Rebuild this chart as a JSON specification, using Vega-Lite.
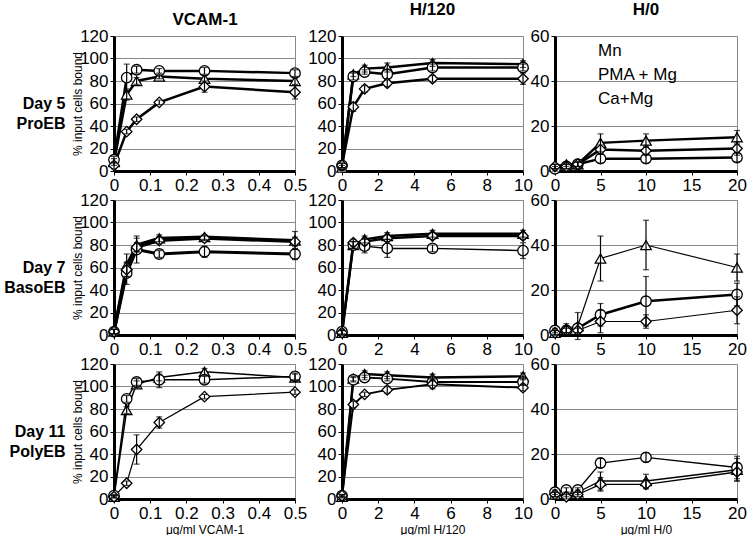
{
  "$schema": "https://vega.github.io/schema/vega-lite/v6.json",
  "background": "white",
  "padding": {"left": 3, "top": 0, "right": 1, "bottom": 2},
  "datasets": {
    "d5v": [
      {"s":"Mn","x":0,"y":8,"e":3},{"s":"Mn","x":0.035,"y":68,"e":5},{"s":"Mn","x":0.0625,"y":80,"e":3},{"s":"Mn","x":0.125,"y":84,"e":2},{"s":"Mn","x":0.25,"y":82,"e":3},{"s":"Mn","x":0.5,"y":80,"e":3},
      {"s":"PMA + Mg","x":0,"y":10,"e":3},{"s":"PMA + Mg","x":0.035,"y":83,"e":12},{"s":"PMA + Mg","x":0.0625,"y":90,"e":3},{"s":"PMA + Mg","x":0.125,"y":89,"e":2},{"s":"PMA + Mg","x":0.25,"y":89,"e":3},{"s":"PMA + Mg","x":0.5,"y":87,"e":3},
      {"s":"Ca+Mg","x":0,"y":5,"e":3},{"s":"Ca+Mg","x":0.035,"y":35,"e":2},{"s":"Ca+Mg","x":0.0625,"y":46,"e":2},{"s":"Ca+Mg","x":0.125,"y":61,"e":2},{"s":"Ca+Mg","x":0.25,"y":75,"e":5},{"s":"Ca+Mg","x":0.5,"y":70,"e":6}
    ],
    "d5h": [
      {"s":"Mn","x":0,"y":3,"e":2},{"s":"Mn","x":0.625,"y":86,"e":2},{"s":"Mn","x":1.25,"y":91,"e":3},{"s":"Mn","x":2.5,"y":92,"e":4},{"s":"Mn","x":5,"y":96,"e":3},{"s":"Mn","x":10,"y":95,"e":3},
      {"s":"PMA + Mg","x":0,"y":5,"e":2},{"s":"PMA + Mg","x":0.625,"y":84,"e":3},{"s":"PMA + Mg","x":1.25,"y":88,"e":2},{"s":"PMA + Mg","x":2.5,"y":86,"e":4},{"s":"PMA + Mg","x":5,"y":92,"e":3},{"s":"PMA + Mg","x":10,"y":92,"e":3},
      {"s":"Ca+Mg","x":0,"y":5,"e":2},{"s":"Ca+Mg","x":0.625,"y":57,"e":4},{"s":"Ca+Mg","x":1.25,"y":73,"e":3},{"s":"Ca+Mg","x":2.5,"y":78,"e":3},{"s":"Ca+Mg","x":5,"y":82,"e":3},{"s":"Ca+Mg","x":10,"y":82,"e":5}
    ],
    "d5z": [
      {"s":"Mn","x":0,"y":2,"e":1},{"s":"Mn","x":1.25,"y":3,"e":1},{"s":"Mn","x":2.5,"y":3,"e":1},{"s":"Mn","x":5,"y":12.5,"e":4},{"s":"Mn","x":10,"y":13.5,"e":3},{"s":"Mn","x":20,"y":15,"e":3},
      {"s":"PMA + Mg","x":0,"y":1,"e":1},{"s":"PMA + Mg","x":1.25,"y":2,"e":1},{"s":"PMA + Mg","x":2.5,"y":3,"e":1},{"s":"PMA + Mg","x":5,"y":5.5,"e":2},{"s":"PMA + Mg","x":10,"y":5.5,"e":2},{"s":"PMA + Mg","x":20,"y":6,"e":2},
      {"s":"Ca+Mg","x":0,"y":2,"e":1},{"s":"Ca+Mg","x":1.25,"y":2,"e":1},{"s":"Ca+Mg","x":2.5,"y":3,"e":1},{"s":"Ca+Mg","x":5,"y":9.5,"e":2},{"s":"Ca+Mg","x":10,"y":9,"e":2},{"s":"Ca+Mg","x":20,"y":10,"e":3}
    ],
    "d7v": [
      {"s":"Mn","x":0,"y":3,"e":2},{"s":"Mn","x":0.035,"y":62,"e":10},{"s":"Mn","x":0.0625,"y":80,"e":6},{"s":"Mn","x":0.125,"y":86,"e":3},{"s":"Mn","x":0.25,"y":87,"e":2},{"s":"Mn","x":0.5,"y":84,"e":8},
      {"s":"PMA + Mg","x":0,"y":3,"e":2},{"s":"PMA + Mg","x":0.035,"y":55,"e":10},{"s":"PMA + Mg","x":0.0625,"y":76,"e":12},{"s":"PMA + Mg","x":0.125,"y":72,"e":3},{"s":"PMA + Mg","x":0.25,"y":74,"e":5},{"s":"PMA + Mg","x":0.5,"y":72,"e":5},
      {"s":"Ca+Mg","x":0,"y":3,"e":2},{"s":"Ca+Mg","x":0.035,"y":58,"e":6},{"s":"Ca+Mg","x":0.0625,"y":78,"e":4},{"s":"Ca+Mg","x":0.125,"y":84,"e":3},{"s":"Ca+Mg","x":0.25,"y":86,"e":2},{"s":"Ca+Mg","x":0.5,"y":83,"e":4}
    ],
    "d7h": [
      {"s":"Mn","x":0,"y":2,"e":2},{"s":"Mn","x":0.625,"y":80,"e":3},{"s":"Mn","x":1.25,"y":85,"e":3},{"s":"Mn","x":2.5,"y":88,"e":3},{"s":"Mn","x":5,"y":90,"e":3},{"s":"Mn","x":10,"y":90,"e":3},
      {"s":"PMA + Mg","x":0,"y":3,"e":2},{"s":"PMA + Mg","x":0.625,"y":80,"e":3},{"s":"PMA + Mg","x":1.25,"y":79,"e":6},{"s":"PMA + Mg","x":2.5,"y":77,"e":8},{"s":"PMA + Mg","x":5,"y":77,"e":3},{"s":"PMA + Mg","x":10,"y":75,"e":7},
      {"s":"Ca+Mg","x":0,"y":2,"e":2},{"s":"Ca+Mg","x":0.625,"y":82,"e":3},{"s":"Ca+Mg","x":1.25,"y":83,"e":3},{"s":"Ca+Mg","x":2.5,"y":86,"e":3},{"s":"Ca+Mg","x":5,"y":88,"e":3},{"s":"Ca+Mg","x":10,"y":88,"e":3}
    ],
    "d7z": [
      {"s":"Mn","x":0,"y":1,"e":1},{"s":"Mn","x":1.25,"y":3,"e":2},{"s":"Mn","x":2.5,"y":4,"e":6},{"s":"Mn","x":5,"y":34,"e":10},{"s":"Mn","x":10,"y":40,"e":11},{"s":"Mn","x":20,"y":30,"e":6},
      {"s":"PMA + Mg","x":0,"y":2,"e":1},{"s":"PMA + Mg","x":1.25,"y":2,"e":2},{"s":"PMA + Mg","x":2.5,"y":3,"e":2},{"s":"PMA + Mg","x":5,"y":9,"e":5},{"s":"PMA + Mg","x":10,"y":15,"e":11},{"s":"PMA + Mg","x":20,"y":18,"e":5},
      {"s":"Ca+Mg","x":0,"y":1,"e":1},{"s":"Ca+Mg","x":1.25,"y":2,"e":1},{"s":"Ca+Mg","x":2.5,"y":2,"e":1},{"s":"Ca+Mg","x":5,"y":6,"e":5},{"s":"Ca+Mg","x":10,"y":6,"e":3},{"s":"Ca+Mg","x":20,"y":11,"e":6}
    ],
    "d11v": [
      {"s":"Mn","x":0,"y":2,"e":1},{"s":"Mn","x":0.035,"y":79,"e":3},{"s":"Mn","x":0.0625,"y":102,"e":3},{"s":"Mn","x":0.125,"y":108,"e":3},{"s":"Mn","x":0.25,"y":113,"e":3},{"s":"Mn","x":0.5,"y":108,"e":3},
      {"s":"PMA + Mg","x":0,"y":3,"e":1},{"s":"PMA + Mg","x":0.035,"y":89,"e":3},{"s":"PMA + Mg","x":0.0625,"y":104,"e":3},{"s":"PMA + Mg","x":0.125,"y":106,"e":7},{"s":"PMA + Mg","x":0.25,"y":106,"e":3},{"s":"PMA + Mg","x":0.5,"y":109,"e":3},
      {"s":"Ca+Mg","x":0,"y":2,"e":1},{"s":"Ca+Mg","x":0.035,"y":14,"e":2},{"s":"Ca+Mg","x":0.0625,"y":44,"e":13},{"s":"Ca+Mg","x":0.125,"y":68,"e":5},{"s":"Ca+Mg","x":0.25,"y":91,"e":2},{"s":"Ca+Mg","x":0.5,"y":95,"e":2}
    ],
    "d11h": [
      {"s":"Mn","x":0,"y":2,"e":1},{"s":"Mn","x":0.625,"y":107,"e":2},{"s":"Mn","x":1.25,"y":111,"e":3},{"s":"Mn","x":2.5,"y":110,"e":3},{"s":"Mn","x":5,"y":108,"e":3},{"s":"Mn","x":10,"y":109,"e":3},
      {"s":"PMA + Mg","x":0,"y":3,"e":1},{"s":"PMA + Mg","x":0.625,"y":106,"e":2},{"s":"PMA + Mg","x":1.25,"y":108,"e":2},{"s":"PMA + Mg","x":2.5,"y":107,"e":2},{"s":"PMA + Mg","x":5,"y":104,"e":3},{"s":"PMA + Mg","x":10,"y":104,"e":3},
      {"s":"Ca+Mg","x":0,"y":3,"e":1},{"s":"Ca+Mg","x":0.625,"y":84,"e":3},{"s":"Ca+Mg","x":1.25,"y":93,"e":2},{"s":"Ca+Mg","x":2.5,"y":97,"e":3},{"s":"Ca+Mg","x":5,"y":102,"e":4},{"s":"Ca+Mg","x":10,"y":99,"e":3}
    ],
    "d11z": [
      {"s":"Mn","x":0,"y":2,"e":1},{"s":"Mn","x":1.25,"y":2,"e":1},{"s":"Mn","x":2.5,"y":3,"e":1},{"s":"Mn","x":5,"y":8,"e":4},{"s":"Mn","x":10,"y":8,"e":3},{"s":"Mn","x":20,"y":13,"e":5},
      {"s":"PMA + Mg","x":0,"y":3,"e":1},{"s":"PMA + Mg","x":1.25,"y":4,"e":1},{"s":"PMA + Mg","x":2.5,"y":4,"e":1},{"s":"PMA + Mg","x":5,"y":16,"e":2},{"s":"PMA + Mg","x":10,"y":18.5,"e":2},{"s":"PMA + Mg","x":20,"y":14,"e":5},
      {"s":"Ca+Mg","x":0,"y":2,"e":1},{"s":"Ca+Mg","x":1.25,"y":1,"e":1},{"s":"Ca+Mg","x":2.5,"y":2,"e":1},{"s":"Ca+Mg","x":5,"y":6.5,"e":3},{"s":"Ca+Mg","x":10,"y":6.5,"e":2},{"s":"Ca+Mg","x":20,"y":12,"e":4}
    ]
  },
  "columns": 3,
  "align": "each",
  "spacing": {"row": -4, "column": -4},
  "resolve": {
    "scale": {"shape": "independent", "strokeWidth": "independent"},
    "legend": {"shape": "independent", "strokeWidth": "independent"}
  },
  "concat": [
    {
      "width": 181, "height": 135,
      "data": {"name": "d5v"},
      "encoding": {
        "x": {"field": "x", "type": "quantitative", "scale": {"domain": [0, 0.5], "nice": false}, "axis": {"values": [0, 0.1, 0.2, 0.3, 0.4, 0.5], "format": "~r", "title": null}},
        "y": {"field": "y", "type": "quantitative", "scale": {"domain": [0, 120], "nice": false}, "axis": {"values": [0, 20, 40, 60, 80, 100, 120], "title": "% input cells bound", "titlePadding": -5}}
      },
      "layer": [
        {"layer": [
          {"mark": {"type": "line", "color": "black"}, "encoding": {"detail": {"field": "s"}, "strokeWidth": {"field": "s", "type": "nominal", "scale": {"type": "ordinal", "domain": ["Mn", "PMA + Mg", "Ca+Mg"], "range": [2.5, 2.5, 2.5]}, "legend": null}}},
          {"mark": {"type": "point", "filled": true, "fill": "white", "stroke": "black", "strokeWidth": 1.3, "size": 110, "opacity": 1}, "encoding": {"shape": {"field": "s", "type": "nominal", "scale": {"domain": ["Mn", "PMA + Mg", "Ca+Mg"], "range": ["triangle-up", "circle", "diamond"]}, "legend": null}}}
        ]},
        {"mark": {"type": "errorbar", "color": "black", "ticks": true, "size": 6, "thickness": 1.2},
         "encoding": {
           "x": {"field": "x", "type": "quantitative", "scale": {"domain": [0, 0.5], "nice": false}, "axis": {"orient": "top", "labels": false, "ticks": false, "domain": false, "grid": false, "title": "VCAM-1", "titleFontSize": 17, "titleFontWeight": "bold", "titlePadding": 8}},
           "y": {"field": "y", "type": "quantitative", "scale": {"domain": [0, 120], "nice": false}, "axis": {"orient": "left", "labels": false, "ticks": false, "domain": false, "grid": false, "title": ["Day 5", "ProEB"], "titleAngle": 0, "titleAlign": "right", "titleBaseline": "middle", "titleX": -49, "titleY": 67, "titleFontSize": 16, "titleFontWeight": "bold", "titleLineHeight": 20}},
           "yError": {"field": "e"}
         }}
      ],
      "resolve": {"axis": {"x": "independent", "y": "independent"}}
    },
    {
      "width": 181, "height": 135,
      "data": {"name": "d5h"},
      "title": {"text": "H/120", "offset": 8},
      "encoding": {
        "x": {"field": "x", "type": "quantitative", "scale": {"domain": [0, 10], "nice": false}, "axis": {"values": [0, 2, 4, 6, 8, 10], "format": "~r", "title": null}},
        "y": {"field": "y", "type": "quantitative", "scale": {"domain": [0, 120], "nice": false}, "axis": {"values": [0, 20, 40, 60, 80, 100, 120], "title": null, "minExtent": 37}}
      },
      "layer": [
        {"mark": {"type": "line", "color": "black"}, "encoding": {"detail": {"field": "s"}, "strokeWidth": {"field": "s", "type": "nominal", "scale": {"type": "ordinal", "domain": ["Mn", "PMA + Mg", "Ca+Mg"], "range": [2.5, 2.5, 2.5]}, "legend": null}}},
        {"mark": {"type": "point", "filled": true, "fill": "white", "stroke": "black", "strokeWidth": 1.3, "size": 110, "opacity": 1}, "encoding": {"shape": {"field": "s", "type": "nominal", "scale": {"domain": ["Mn", "PMA + Mg", "Ca+Mg"], "range": ["triangle-up", "circle", "diamond"]}, "legend": null}}},
        {"mark": {"type": "errorbar", "color": "black", "ticks": true, "size": 6, "thickness": 1.2}, "encoding": {"yError": {"field": "e"}}}
      ]
    },
    {
      "width": 182, "height": 135,
      "data": {"name": "d5z"},
      "title": {"text": "H/0", "offset": 8},
      "encoding": {
        "x": {"field": "x", "type": "quantitative", "scale": {"domain": [0, 20], "nice": false}, "axis": {"values": [0, 5, 10, 15, 20], "format": "~r", "title": null}},
        "y": {"field": "y", "type": "quantitative", "scale": {"domain": [0, 60], "nice": false}, "axis": {"values": [0, 20, 40, 60], "title": null}}
      },
      "layer": [
        {"mark": {"type": "line", "color": "black", "strokeWidth": 2.5}, "encoding": {"detail": {"field": "s"}}},
        {"mark": {"type": "point", "filled": true, "fill": "white", "stroke": "black", "strokeWidth": 1.3, "size": 110, "opacity": 1}, "encoding": {"shape": {"field": "s", "type": "nominal", "scale": {"domain": ["Mn", "PMA + Mg", "Ca+Mg"], "range": ["triangle-up", "circle", "diamond"]},
          "legend": {"orient": "top-left", "offset": 6, "title": null, "padding": 0, "labelFontSize": 17, "labelColor": "black", "labelFont": "Liberation Sans", "symbolSize": 130, "symbolStrokeColor": "black", "symbolFillColor": "white", "symbolStrokeWidth": 1.3, "symbolOpacity": 1, "labelOffset": 20, "rowPadding": 6,
            "encode": {"symbols": {"update": {
              "stroke": {"value": "black"},
              "strokeWidth": {"value": 1.3},
              "fill": {"value": "white"},
              "opacity": {"value": 1}
            }}}}}}},
        {"mark": {"type": "errorbar", "color": "black", "ticks": true, "size": 6, "thickness": 1.2}, "encoding": {"yError": {"field": "e"}}}
      ]
    },
    {
      "width": 181, "height": 135,
      "data": {"name": "d7v"},
      "encoding": {
        "x": {"field": "x", "type": "quantitative", "scale": {"domain": [0, 0.5], "nice": false}, "axis": {"values": [0, 0.1, 0.2, 0.3, 0.4, 0.5], "format": "~r", "title": null}},
        "y": {"field": "y", "type": "quantitative", "scale": {"domain": [0, 120], "nice": false}, "axis": {"values": [0, 20, 40, 60, 80, 100, 120], "title": "% input cells bound", "titlePadding": -5}}
      },
      "layer": [
        {"layer": [
          {"mark": {"type": "line", "color": "black"}, "encoding": {"detail": {"field": "s"}, "strokeWidth": {"field": "s", "type": "nominal", "scale": {"type": "ordinal", "domain": ["Mn", "PMA + Mg", "Ca+Mg"], "range": [3, 3, 3]}, "legend": null}}},
          {"mark": {"type": "point", "filled": true, "fill": "white", "stroke": "black", "strokeWidth": 1.3, "size": 110, "opacity": 1}, "encoding": {"shape": {"field": "s", "type": "nominal", "scale": {"domain": ["Mn", "PMA + Mg", "Ca+Mg"], "range": ["triangle-up", "circle", "diamond"]}, "legend": null}}}
        ]},
        {"mark": {"type": "errorbar", "color": "black", "ticks": true, "size": 6, "thickness": 1.2},
         "encoding": {
           "y": {"field": "y", "type": "quantitative", "scale": {"domain": [0, 120], "nice": false}, "axis": {"orient": "left", "labels": false, "ticks": false, "domain": false, "grid": false, "title": ["Day 7", "BasoEB"], "titleAngle": 0, "titleAlign": "right", "titleBaseline": "middle", "titleX": -49, "titleY": 67, "titleFontSize": 16, "titleFontWeight": "bold", "titleLineHeight": 20}},
           "yError": {"field": "e"}
         }}
      ],
      "resolve": {"axis": {"y": "independent"}}
    },
    {
      "width": 181, "height": 135,
      "data": {"name": "d7h"},
      "encoding": {
        "x": {"field": "x", "type": "quantitative", "scale": {"domain": [0, 10], "nice": false}, "axis": {"values": [0, 2, 4, 6, 8, 10], "format": "~r", "title": null}},
        "y": {"field": "y", "type": "quantitative", "scale": {"domain": [0, 120], "nice": false}, "axis": {"values": [0, 20, 40, 60, 80, 100, 120], "title": null, "minExtent": 37}}
      },
      "layer": [
        {"mark": {"type": "line", "color": "black"}, "encoding": {"detail": {"field": "s"}, "strokeWidth": {"field": "s", "type": "nominal", "scale": {"type": "ordinal", "domain": ["Mn", "PMA + Mg", "Ca+Mg"], "range": [2.5, 1.5, 2.5]}, "legend": null}}},
        {"mark": {"type": "point", "filled": true, "fill": "white", "stroke": "black", "strokeWidth": 1.3, "size": 110, "opacity": 1}, "encoding": {"shape": {"field": "s", "type": "nominal", "scale": {"domain": ["Mn", "PMA + Mg", "Ca+Mg"], "range": ["triangle-up", "circle", "diamond"]}, "legend": null}}},
        {"mark": {"type": "errorbar", "color": "black", "ticks": true, "size": 6, "thickness": 1.2}, "encoding": {"yError": {"field": "e"}}}
      ]
    },
    {
      "width": 182, "height": 135,
      "data": {"name": "d7z"},
      "encoding": {
        "x": {"field": "x", "type": "quantitative", "scale": {"domain": [0, 20], "nice": false}, "axis": {"values": [0, 5, 10, 15, 20], "format": "~r", "title": null}},
        "y": {"field": "y", "type": "quantitative", "scale": {"domain": [0, 60], "nice": false}, "axis": {"values": [0, 20, 40, 60], "title": null}}
      },
      "layer": [
        {"mark": {"type": "line", "color": "black"}, "encoding": {"detail": {"field": "s"}, "strokeWidth": {"field": "s", "type": "nominal", "scale": {"type": "ordinal", "domain": ["Mn", "PMA + Mg", "Ca+Mg"], "range": [1.2, 2.5, 1.2]}, "legend": null}}},
        {"mark": {"type": "point", "filled": true, "fill": "white", "stroke": "black", "strokeWidth": 1.3, "size": 110, "opacity": 1}, "encoding": {"shape": {"field": "s", "type": "nominal", "scale": {"domain": ["Mn", "PMA + Mg", "Ca+Mg"], "range": ["triangle-up", "circle", "diamond"]}, "legend": null}}},
        {"mark": {"type": "errorbar", "color": "black", "ticks": true, "size": 6, "thickness": 1.2}, "encoding": {"yError": {"field": "e"}}}
      ]
    },
    {
      "width": 181, "height": 135,
      "data": {"name": "d11v"},
      "encoding": {
        "x": {"field": "x", "type": "quantitative", "scale": {"domain": [0, 0.5], "nice": false}, "axis": {"values": [0, 0.1, 0.2, 0.3, 0.4, 0.5], "format": "~r", "title": "μg/ml VCAM-1", "titlePadding": 3}},
        "y": {"field": "y", "type": "quantitative", "scale": {"domain": [0, 120], "nice": false}, "axis": {"values": [0, 20, 40, 60, 80, 100, 120], "title": "% input cells bound", "titlePadding": -5}}
      },
      "layer": [
        {"layer": [
          {"mark": {"type": "line", "color": "black"}, "encoding": {"detail": {"field": "s"}, "strokeWidth": {"field": "s", "type": "nominal", "scale": {"type": "ordinal", "domain": ["Mn", "PMA + Mg", "Ca+Mg"], "range": [1.5, 1.5, 1.2]}, "legend": null}}},
          {"mark": {"type": "point", "filled": true, "fill": "white", "stroke": "black", "strokeWidth": 1.3, "size": 110, "opacity": 1}, "encoding": {"shape": {"field": "s", "type": "nominal", "scale": {"domain": ["Mn", "PMA + Mg", "Ca+Mg"], "range": ["triangle-up", "circle", "diamond"]}, "legend": null}}}
        ]},
        {"mark": {"type": "errorbar", "color": "black", "ticks": true, "size": 6, "thickness": 1.2},
         "encoding": {
           "y": {"field": "y", "type": "quantitative", "scale": {"domain": [0, 120], "nice": false}, "axis": {"orient": "left", "labels": false, "ticks": false, "domain": false, "grid": false, "title": ["Day 11", "PolyEB"], "titleAngle": 0, "titleAlign": "right", "titleBaseline": "middle", "titleX": -49, "titleY": 67, "titleFontSize": 16, "titleFontWeight": "bold", "titleLineHeight": 20}},
           "yError": {"field": "e"}
         }}
      ],
      "resolve": {"axis": {"y": "independent"}}
    },
    {
      "width": 181, "height": 135,
      "data": {"name": "d11h"},
      "encoding": {
        "x": {"field": "x", "type": "quantitative", "scale": {"domain": [0, 10], "nice": false}, "axis": {"values": [0, 2, 4, 6, 8, 10], "format": "~r", "title": "μg/ml H/120", "titlePadding": 3}},
        "y": {"field": "y", "type": "quantitative", "scale": {"domain": [0, 120], "nice": false}, "axis": {"values": [0, 20, 40, 60, 80, 100, 120], "title": null, "minExtent": 37}}
      },
      "layer": [
        {"mark": {"type": "line", "color": "black"}, "encoding": {"detail": {"field": "s"}, "strokeWidth": {"field": "s", "type": "nominal", "scale": {"type": "ordinal", "domain": ["Mn", "PMA + Mg", "Ca+Mg"], "range": [2.5, 2, 2]}, "legend": null}}},
        {"mark": {"type": "point", "filled": true, "fill": "white", "stroke": "black", "strokeWidth": 1.3, "size": 110, "opacity": 1}, "encoding": {"shape": {"field": "s", "type": "nominal", "scale": {"domain": ["Mn", "PMA + Mg", "Ca+Mg"], "range": ["triangle-up", "circle", "diamond"]}, "legend": null}}},
        {"mark": {"type": "errorbar", "color": "black", "ticks": true, "size": 6, "thickness": 1.2}, "encoding": {"yError": {"field": "e"}}}
      ]
    },
    {
      "width": 182, "height": 135,
      "data": {"name": "d11z"},
      "encoding": {
        "x": {"field": "x", "type": "quantitative", "scale": {"domain": [0, 20], "nice": false}, "axis": {"values": [0, 5, 10, 15, 20], "format": "~r", "title": "μg/ml H/0", "titlePadding": 3}},
        "y": {"field": "y", "type": "quantitative", "scale": {"domain": [0, 60], "nice": false}, "axis": {"values": [0, 20, 40, 60], "title": null}}
      },
      "layer": [
        {"mark": {"type": "line", "color": "black"}, "encoding": {"detail": {"field": "s"}, "strokeWidth": {"field": "s", "type": "nominal", "scale": {"type": "ordinal", "domain": ["Mn", "PMA + Mg", "Ca+Mg"], "range": [1.3, 1.3, 1.3]}, "legend": null}}},
        {"mark": {"type": "point", "filled": true, "fill": "white", "stroke": "black", "strokeWidth": 1.3, "size": 110, "opacity": 1}, "encoding": {"shape": {"field": "s", "type": "nominal", "scale": {"domain": ["Mn", "PMA + Mg", "Ca+Mg"], "range": ["triangle-up", "circle", "diamond"]}, "legend": null}}},
        {"mark": {"type": "errorbar", "color": "black", "ticks": true, "size": 6, "thickness": 1.2}, "encoding": {"yError": {"field": "e"}}}
      ]
    }
  ],
  "config": {
    "font": "Liberation Sans",
    "view": {"stroke": "#888888", "strokeWidth": 1},
    "axis": {"labelFontSize": 17, "labelFont": "Liberation Sans", "labelColor": "black", "domainColor": "black", "domainWidth": 3, "tickColor": "black", "tickSize": 4, "tickWidth": 1, "labelPadding": 2, "labelFlush": false, "labelOverlap": false, "titleFont": "Liberation Sans", "titleColor": "black", "titleFontWeight": "normal", "titleFontSize": 12, "titlePadding": 3, "grid": false},
    "axisY": {"grid": true, "gridColor": "#888888", "gridWidth": 1, "gridOpacity": 1},
    "title": {"fontSize": 17, "fontWeight": "bold", "color": "black", "font": "Liberation Sans", "anchor": "middle", "frame": "group"}
  }
}
